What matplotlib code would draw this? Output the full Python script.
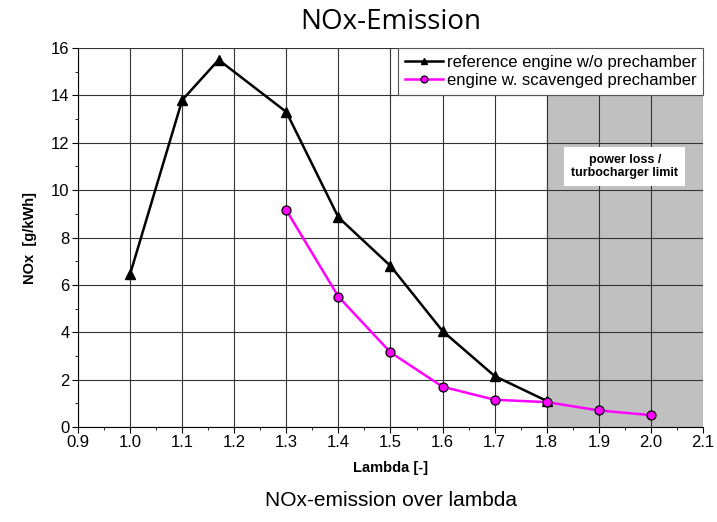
import numpy as np
import matplotlib
matplotlib.use('Agg')
import matplotlib.pyplot as plt
from matplotlib.lines import Line2D

plt.rcParams['font.family'] = ['Liberation Sans', 'DejaVu Sans']

# data
lam_ref = [1.0, 1.1, 1.17, 1.3, 1.4, 1.5, 1.6, 1.7, 1.8]
nox_ref = [6.45, 13.8, 15.5, 13.3, 8.85, 6.8, 4.05, 2.15, 1.1]

lam_pc = [1.3, 1.4, 1.5, 1.6, 1.7, 1.8, 1.9, 2.0]
nox_pc = [9.15, 5.5, 3.15, 1.7, 1.15, 1.05, 0.7, 0.5]

label_ref = 'reference engine w/o prechamber'
label_pc = 'engine w. scavenged prechamber'

fig = plt.figure(figsize=(7.17, 5.22), dpi=100)
ax = fig.add_axes([78/717, 1 - 427/522, (703-78)/717, (427-48)/522])

# shaded region
ax.axvspan(1.8, 2.1, color='#c0c0c0', zorder=0)

ax.set_xlim(0.9, 2.1)
ax.set_ylim(0, 16)
ax.set_xticks(np.arange(0.9, 2.11, 0.1))
ax.set_xticks(np.arange(0.9, 2.11, 0.05), minor=True)
ax.set_yticks(np.arange(0, 16.1, 2))
ax.set_yticks(np.arange(0, 16.1, 1), minor=True)
ax.xaxis.set_major_formatter(matplotlib.ticker.FormatStrFormatter('%.1f'))
ax.grid(which='major', color='#333333', linewidth=0.8, zorder=1)
ax.set_axisbelow(True)
ax.tick_params(which='major', labelsize=12, length=4, direction='out', pad=2)
ax.tick_params(which='minor', length=2.5)

for s in ['top', 'right']:
    ax.spines[s].set_visible(False)

ax.plot(lam_ref, nox_ref, color='black', lw=1.8, marker='^', ms=7,
        mfc='black', mec='black', zorder=3)
ax.plot(lam_pc, nox_pc, color='#ff00ff', lw=1.8, marker='o', ms=6.5,
        mfc='#ff00ff', mec='black', mew=0.9, zorder=3)

ax.text(1.95, 11.0, 'power loss /\nturbocharger limit', ha='center',
        va='center', fontsize=9, fontweight='bold', linespacing=1.1,
        bbox=dict(facecolor='white', edgecolor='none', pad=5), zorder=4)

handles = [
    Line2D([], [], color='black', lw=1.8, marker='^', ms=5, mfc='black',
           mec='black', label=label_ref),
    Line2D([], [], color='#ff00ff', lw=1.8, marker='o', ms=5,
           mfc='#ff00ff', mec='black', mew=0.9, label=label_pc),
]
leg = ax.legend(handles=handles, loc='upper right', bbox_to_anchor=(1.0, 1.0),
                fontsize=12, frameon=True, fancybox=False, borderpad=0.4,
                handlelength=2.3, handletextpad=0.2, borderaxespad=0.0,
                labelspacing=0.2)
leg.get_frame().set_edgecolor('#555555')
leg.get_frame().set_linewidth(0.8)
leg.get_frame().set_alpha(1)

ax.set_xlabel('Lambda [-]', fontsize=10.5, fontweight='bold', labelpad=8)
ax.set_ylabel('NOx  [g/kWh]', fontsize=10.5, fontweight='bold', labelpad=10)

fig.text(391/717, 1 - 22/522, 'NOx-Emission', ha='center', va='center',
         fontsize=20, family=['Open Sans', 'DejaVu Sans'])
fig.text(391/717, 1 - 500/522, 'NOx-emission over lambda', ha='center',
         va='center', fontsize=15)

fig.savefig('out.png', dpi=100)
